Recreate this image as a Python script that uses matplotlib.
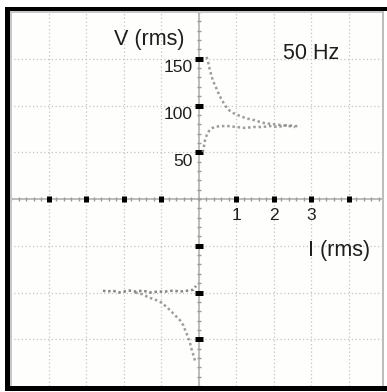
import matplotlib
matplotlib.use("Agg")
import matplotlib.pyplot as plt
from matplotlib.patches import Rectangle
from matplotlib.ticker import MultipleLocator

# ---- data ----
I_up_fall = [0.20, 0.24, 0.29, 0.33, 0.37, 0.42, 0.48, 0.54, 0.61, 0.68, 0.75, 0.83, 0.91, 1.02, 1.15, 1.28, 1.41, 1.58, 1.76, 1.98, 2.21, 2.40, 2.56]
V_up_fall = [152, 147, 138, 132, 127, 122, 117, 111, 106, 101, 97, 94, 92, 90, 88, 86, 85, 83, 81, 80, 79, 78, 77]

I_up_rise = [0.10, 0.13, 0.16, 0.22, 0.29, 0.36, 0.43, 0.55, 0.77, 1.00, 1.23, 1.45, 1.68, 1.90, 2.10, 2.35, 2.56, 2.70]
V_up_rise = [50, 56, 63, 70, 74, 76, 77, 78, 78, 77, 76, 77, 77, 78, 77, 79, 78, 78]

I_lo_flat = [-2.56, -2.45, -2.30, -2.15, -2.00, -1.85, -1.70, -1.50, -1.30, -1.10, -0.90, -0.70, -0.50, -0.30, -0.15, -0.08]
V_lo_flat = [-98, -99, -98, -100, -99, -98, -99, -98, -100, -99, -99, -98, -99, -98, -97, -93]

I_lo_fall = [-1.70, -1.50, -1.36, -1.15, -0.99, -0.85, -0.72, -0.60, -0.50, -0.42, -0.37, -0.30, -0.24, -0.19, -0.14, -0.10]
V_lo_fall = [-100, -102, -105, -108, -111, -116, -121, -126, -130, -135, -140, -147, -154, -162, -168, -174]

x_ticks = [-4, -3, -2, -1, 1, 2, 3, 4]
y_ticks = [-150, -100, -50, 50, 100, 150]
x_labels = {1: "1", 2: "2", 3: "3"}
y_labels = {150: "150", 100: "100", 50: "50"}

W, H = 387, 392
fig = plt.figure(figsize=(W / 100, H / 100), dpi=100)
fig.patch.set_facecolor("white")

def fx(px):
    return px / W

def fy(py):
    return 1 - py / H

ax = fig.add_axes([fx(10), fy(386), fx(383) - fx(10), fy(12) - fy(386)])
ax.set_facecolor("#fefefc")
ax.set_xlim(-5.04, 4.907)
ax.set_ylim(-200, 200)

for s in ("top", "right"):
    ax.spines[s].set_visible(False)
for s in ("left", "bottom"):
    ax.spines[s].set_position(("data", 0))
    ax.spines[s].set_color("#b8b8b8")
    ax.spines[s].set_linewidth(1.3)
    ax.spines[s].set_zorder(0.3)

ax.set_xticks(x_ticks)
ax.set_yticks(y_ticks)
ax.xaxis.set_minor_locator(MultipleLocator(0.2))
ax.yaxis.set_minor_locator(MultipleLocator(10))
ax.tick_params(axis="x", which="major", direction="inout", length=5, width=3.6,
               color="black", labelbottom=False)
ax.tick_params(axis="y", which="major", direction="inout", length=5.8, width=3.6,
               color="black", labelleft=False)
ax.tick_params(which="minor", direction="inout", length=3.2, width=1.0, color="#9a9a9a")

ax.grid(which="major", linestyle=(0, (1, 2)), color="#c4c4c4", linewidth=0.9)
ax.set_axisbelow(True)

trace = dict(color="#8c8c8c", linewidth=1.8, linestyle=(0, (1, 1.1)), alpha=0.85,
             zorder=3)
ax.plot(I_up_fall, V_up_fall, **trace)
ax.plot(I_up_rise, V_up_rise, **trace)
ax.plot(I_lo_flat, V_lo_flat, **dict(trace, color="#707070"))
ax.plot(I_lo_fall, V_lo_fall, **trace)

font = "Liberation Sans"
tc = "#1e1e1e"
for v, t in y_labels.items():
    ax.annotate(t, xy=(0, v), xytext=(-6, -9), textcoords="offset pixels",
                ha="right", va="center", fontsize=12.5, family=font, color=tc)
for x, t in x_labels.items():
    ax.annotate(t, xy=(x, 0), xytext=(0, -16), textcoords="offset pixels",
                ha="center", va="center", fontsize=12.5, family=font, color=tc)

ax.text(-1.33, 171, "V (rms)", ha="center", va="center", fontsize=15.5, family=font, color=tc)
ax.text(2.99, 156, "50 Hz", ha="center", va="center", fontsize=15.5, family=font, color=tc)
ax.text(3.73, -55, "I (rms)", ha="center", va="center", fontsize=15.5, family=font, color=tc)

# frame: black sunken border with light inner line
def rect(x0, y0, x1, y1, color):
    fig.add_artist(Rectangle((fx(x0), fy(y1)), fx(x1) - fx(x0), fy(y0) - fy(y1),
                             transform=fig.transFigure, facecolor=color,
                             edgecolor="none", zorder=10))

rect(5, 7, 10, 391, "black")      # left
rect(5, 7, 387, 11, "black")      # top
rect(5, 386, 387, 391, "black")   # bottom
rect(10, 11, 12, 386, "#c8c8c8")  # inner left light line
rect(10, 11, 383, 13, "#c8c8c8")  # inner top light line
rect(382, 11, 384, 386, "#bdbdbd")  # right gray line

fig.savefig("out.png", dpi=100)
